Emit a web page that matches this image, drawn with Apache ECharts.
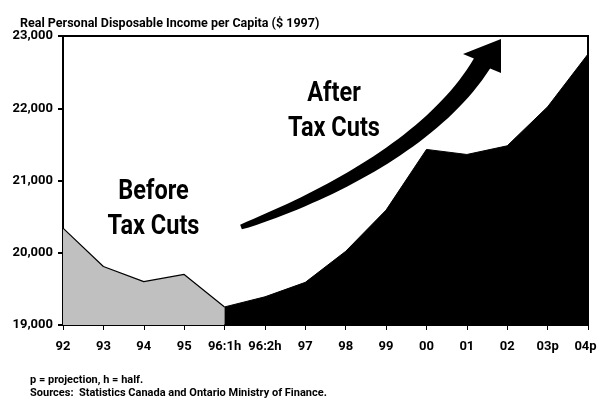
<!DOCTYPE html>
<html>
<head>
<meta charset="utf-8">
<script src="https://cdn.jsdelivr.net/npm/echarts@6/dist/echarts.min.js"></script>
<style>
html,body{margin:0;padding:0;background:#fff;}
#c{width:597px;height:400px;}
</style>
</head>
<body>
<div id="c"></div>
<script>
var categories = ['92','93','94','95','96:1h','96:2h','97','98','99','00','01','02','03p','04p'];
var beforeValues = [20340, 19810, 19600, 19700, 19250, '-', '-', '-', '-', '-', '-', '-', '-', '-'];
var afterValues = ['-', '-', '-', '-', 19250, 19390, 19590, 20020, 20590, 21430, 21360, 21480, 22020, 22750];
var yTicks = [19000, 20000, 21000, 22000, 23000];

var FONT = "Roboto, 'Liberation Sans', sans-serif";

// Arrow annotation (pixel geometry of the decoration)
function arrowPolygon() {
  var P0=[241,227], P1=[330,195], P2=[435,140], P3=[482,63.5];
  var left=[], right=[];
  var N=40;
  for (var i=0;i<=N;i++){
    var t=i/N, u=1-t;
    var x=u*u*u*P0[0]+3*u*u*t*P1[0]+3*u*t*t*P2[0]+t*t*t*P3[0];
    var y=u*u*u*P0[1]+3*u*u*t*P1[1]+3*u*t*t*P2[1]+t*t*t*P3[1];
    var dx=3*u*u*(P1[0]-P0[0])+6*u*t*(P2[0]-P1[0])+3*t*t*(P3[0]-P2[0]);
    var dy=3*u*u*(P1[1]-P0[1])+6*u*t*(P2[1]-P1[1])+3*t*t*(P3[1]-P2[1]);
    var L=Math.sqrt(dx*dx+dy*dy); dx/=L; dy/=L;
    var nx=-dy, ny=dx;
    var w=(5+14*Math.pow(t,0.7))/2;
    left.push([x-nx*w,y-ny*w]);
    right.push([x+nx*w,y+ny*w]);
  }
  var pts=left.slice();
  pts.push([463,54]); pts.push([501,39]); pts.push([501,73]);
  pts=pts.concat(right.reverse());
  return pts;
}

var chart = echarts.init(document.getElementById('c'), null, {renderer:'canvas'});
chart.setOption({
  animation:false,
  backgroundColor:'#fff',
  title:{
    text:'Real Personal Disposable Income per Capita ($ 1997)',
    left:15, top:12,
    textStyle:{fontFamily:FONT, fontWeight:'bold', fontSize:12.5, color:'#000'}
  },
  grid:{left:63, right:9, top:36, bottom:75, outerBoundsMode:'none', containLabel:false,
        show:true, borderColor:'#000', borderWidth:2, backgroundColor:'transparent'},
  xAxis:{
    type:'category', data:categories, boundaryGap:false,
    axisLine:{lineStyle:{color:'#000', width:2}},
    axisTick:{show:true, length:5, lineStyle:{color:'#000', width:1}},
    axisLabel:{fontFamily:FONT, fontWeight:'bold', fontSize:13, color:'#000', margin:15, interval:0, hideOverlap:false,
      formatter:function(v, i){ return i === categories.length-1 ? '{last|'+v+'}' : v; },
      rich:{last:{fontFamily:FONT, fontWeight:'bold', fontSize:13, color:'#000', padding:[0,5,0,0]}}},
    splitLine:{show:false}
  },
  yAxis:{
    type:'value', min:19000, max:23000, interval:1000,
    axisLine:{show:true, lineStyle:{color:'#000', width:2}},
    axisTick:{show:true, length:5, lineStyle:{color:'#000', width:2}},
    axisLabel:{fontFamily:FONT, fontWeight:'bold', fontSize:13, color:'#000', margin:10,
      formatter:function(v){return yTicks.indexOf(v)>=0 ? v.toLocaleString('en-US') : '';}},
    splitLine:{show:false}
  },
  series:[
    {type:'line', data:beforeValues, symbol:'none', silent:true,
     lineStyle:{color:'#000', width:1.2}, areaStyle:{color:'#c0c0c0', opacity:1}, z:2},
    {type:'line', data:afterValues, symbol:'none', silent:true,
     lineStyle:{color:'#000', width:1}, areaStyle:{color:'#000', opacity:1}, z:3}
  ],
  graphic:[
    {type:'polygon', shape:{points:arrowPolygon()}, style:{fill:'#000'}, z:10},
    {type:'text', x:334, y:111, scaleX:0.84, style:{text:'After\nTax Cuts', x:0, y:0, align:'center', verticalAlign:'middle',
      font:'bold 28px '+FONT, lineHeight:35, fill:'#000'}, z:10},
    {type:'text', x:153.5, y:209.5, scaleX:0.84, style:{text:'Before\nTax Cuts', x:0, y:0, align:'center', verticalAlign:'middle',
      font:'bold 28px '+FONT, lineHeight:35, fill:'#000'}, z:10},
    {type:'text', x:30, y:380, style:{text:'p = projection, h = half.', x:0, y:0, verticalAlign:'middle',
      font:'bold 11px '+FONT, fill:'#000'}, z:10},
    {type:'text', x:30, y:393, style:{text:'Sources:  Statistics Canada and Ontario Ministry of Finance.', x:0, y:0, verticalAlign:'middle',
      font:'bold 11px '+FONT, fill:'#000'}, z:10}
  ]
});
</script>
</body>
</html>
